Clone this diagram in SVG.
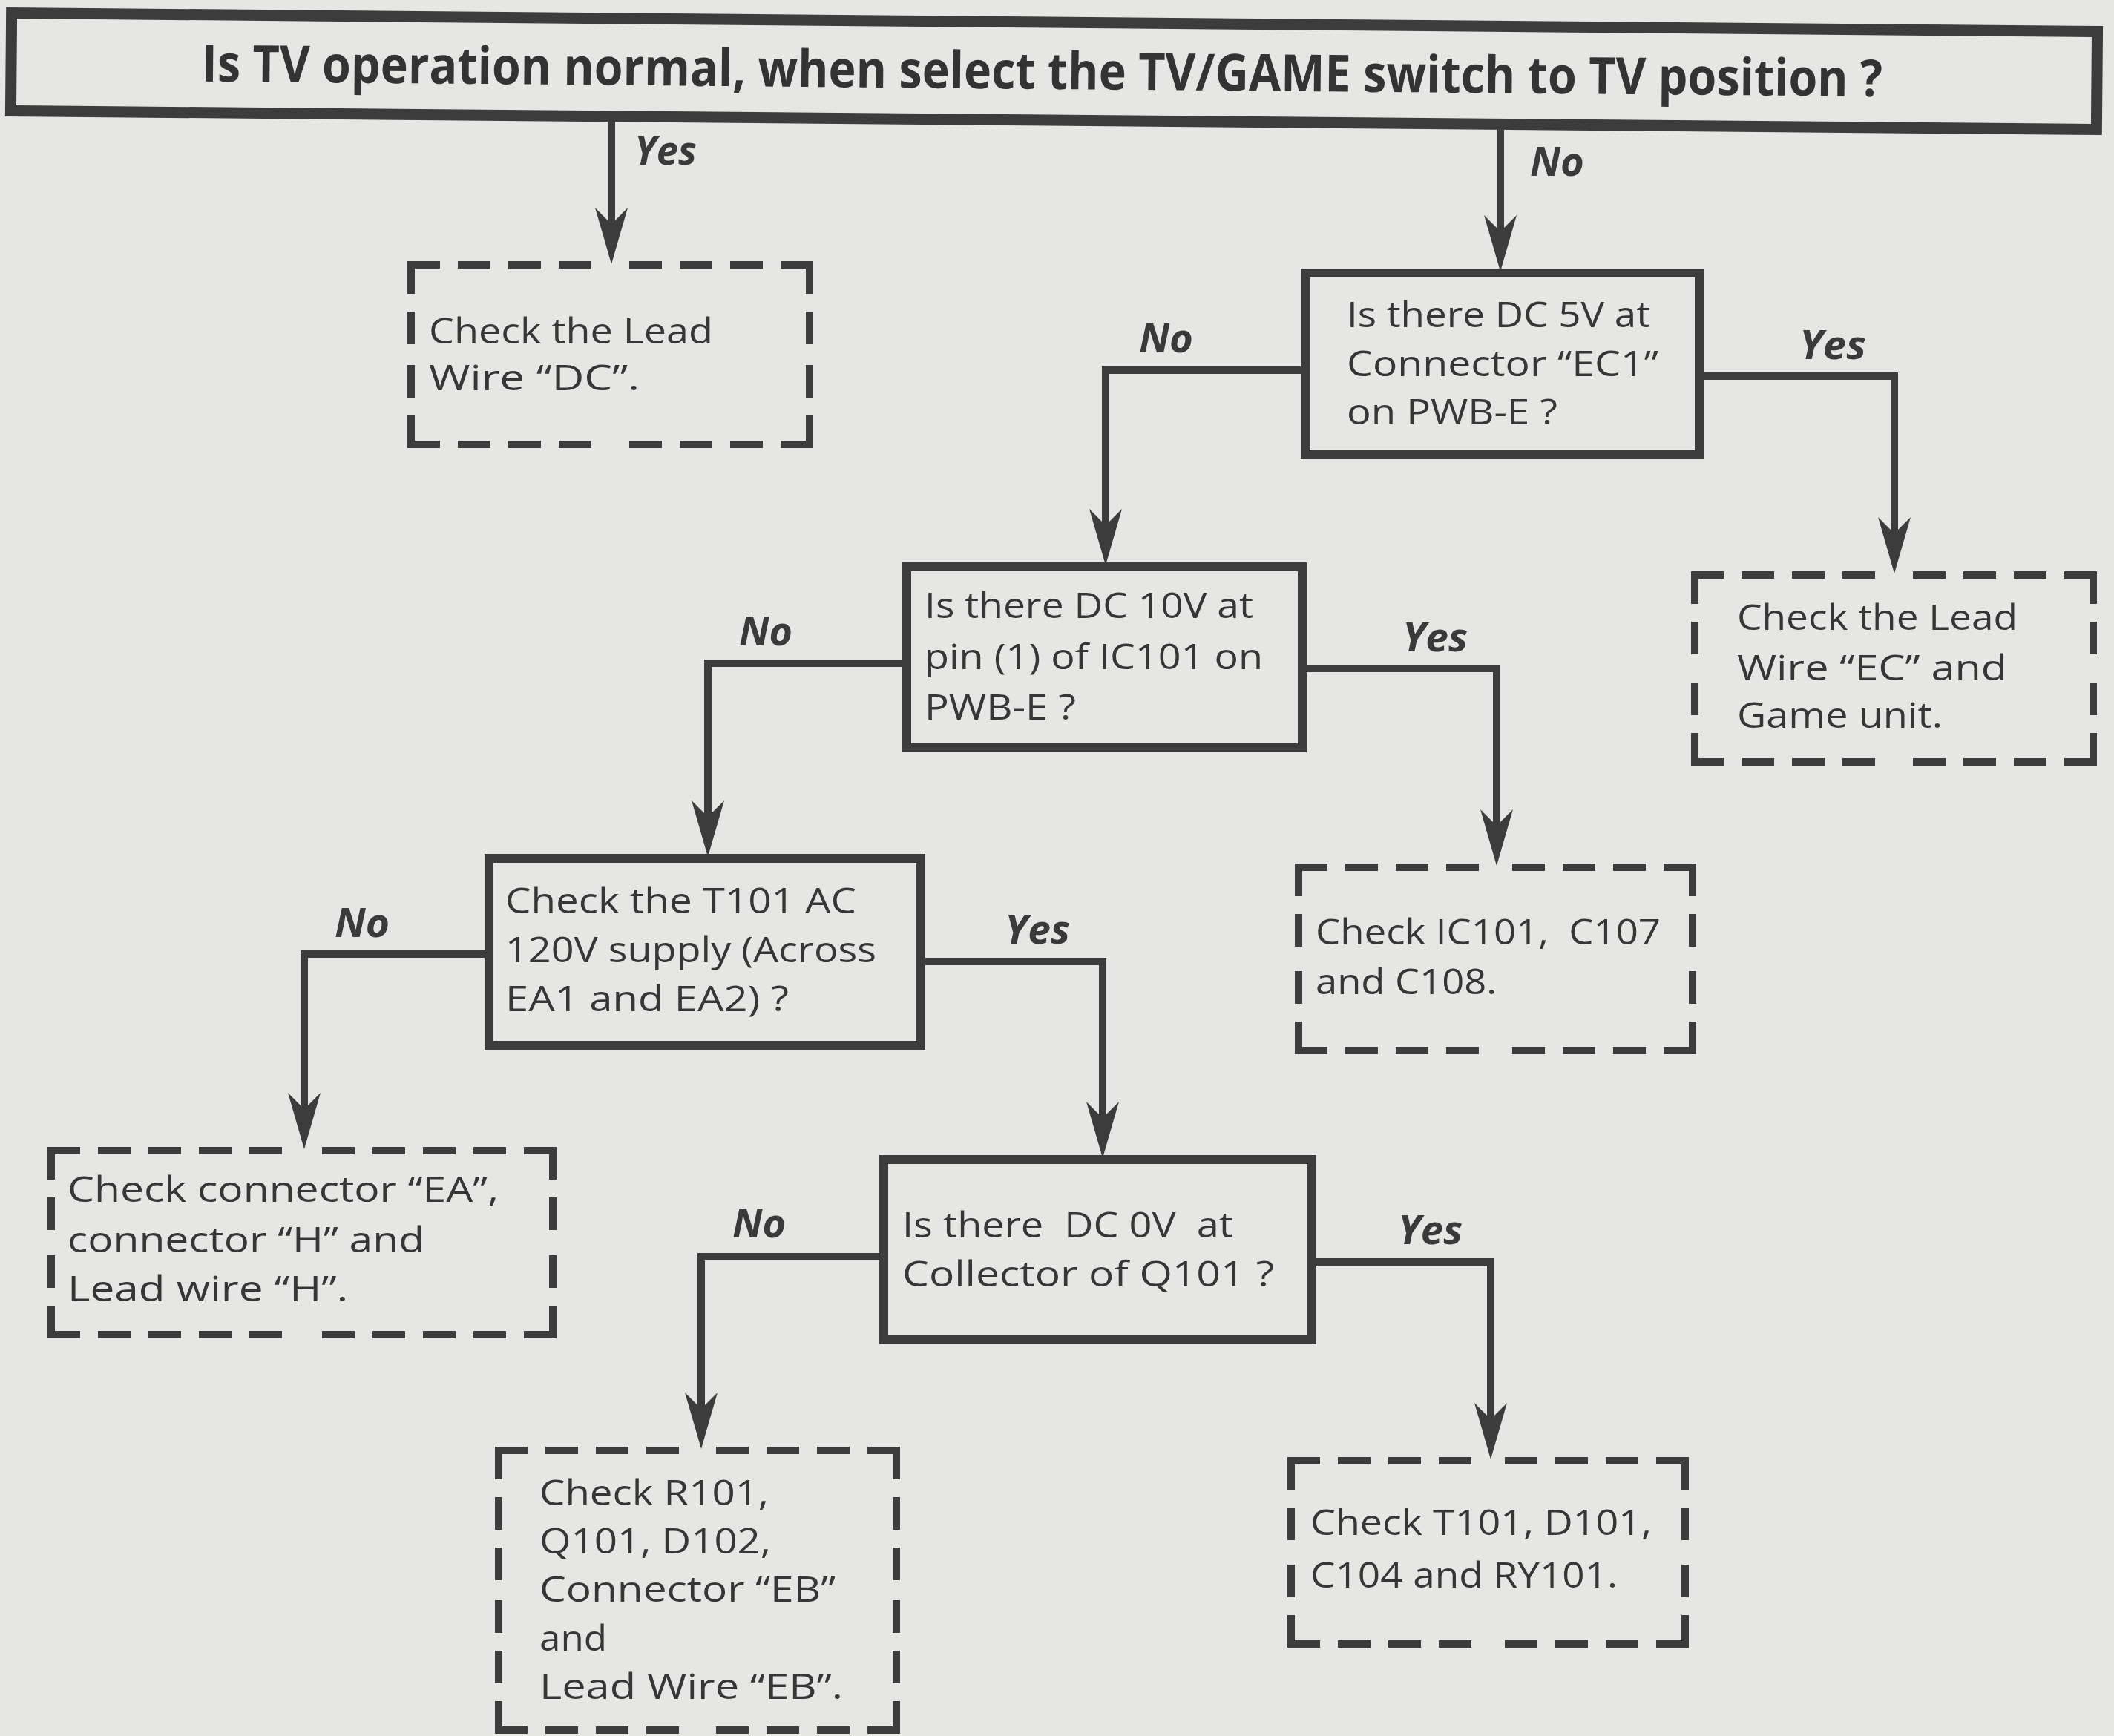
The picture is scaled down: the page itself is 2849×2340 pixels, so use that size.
<svg xmlns="http://www.w3.org/2000/svg" xmlns:xlink="http://www.w3.org/1999/xlink" width="2849" height="2340" viewBox="0 0 2849 2340">
<style>
.bg{fill:#e6e6e4}
.solid{fill:none;stroke:#3c3c3c;stroke-width:12;stroke-linejoin:miter}
.top{fill:none;stroke:#3c3c3c;stroke-width:15}
.dash{fill:none;stroke:#3c3c3c;stroke-width:10;stroke-dasharray:34 34;stroke-linecap:square}
.conn{fill:none;stroke:#3c3c3c;stroke-width:10;stroke-linejoin:miter}
.ah{fill:#3c3c3c}
.t{font-family:"Open Sans","Noto Sans","Liberation Sans",sans-serif;font-size:48px;fill:#363636}
.h{font-family:"Open Sans","Noto Sans","Liberation Sans",sans-serif;font-size:69px;font-weight:bold;fill:#333}
.lb{font-family:"Open Sans","Noto Sans","Liberation Sans",sans-serif;font-size:54px;font-weight:bold;font-style:italic;fill:#3a3a3a}
</style>
<defs>
<path id="ah" class="ah" d="M0,0 L-22,-76 L0,-54 L22,-76 Z"/>
</defs>
<rect class="bg" x="0" y="0" width="2849" height="2340"/>

<g id="connectors">
<path class="conn" d="M824,162 V306"/>
<use href="#ah" transform="translate(824,356)"/>
<text class="lb" x="855" y="222" textLength="84" lengthAdjust="spacingAndGlyphs">Yes</text>

<path class="conn" d="M2022,172 V316"/>
<use href="#ah" transform="translate(2022,366)"/>
<text class="lb" x="2062" y="237" textLength="73" lengthAdjust="spacingAndGlyphs">No</text>

<path class="conn" d="M1759,499 H1490 V712"/>
<use href="#ah" transform="translate(1490,762)"/>
<text class="lb" x="1535" y="475" textLength="73" lengthAdjust="spacingAndGlyphs">No</text>

<path class="conn" d="M2290,507 H2553 V723"/>
<use href="#ah" transform="translate(2553,773)"/>
<text class="lb" x="2425" y="484" textLength="90" lengthAdjust="spacingAndGlyphs">Yes</text>

<path class="conn" d="M1222,894 H954 V1105"/>
<use href="#ah" transform="translate(954,1155)"/>
<text class="lb" x="996" y="870" textLength="72" lengthAdjust="spacingAndGlyphs">No</text>

<path class="conn" d="M1755,901 H2017 V1117"/>
<use href="#ah" transform="translate(2017,1167)"/>
<text class="lb" x="1890" y="878" textLength="88" lengthAdjust="spacingAndGlyphs">Yes</text>

<path class="conn" d="M659,1286 H410 V1499"/>
<use href="#ah" transform="translate(410,1549)"/>
<text class="lb" x="451" y="1263" textLength="74" lengthAdjust="spacingAndGlyphs">No</text>

<path class="conn" d="M1241,1296 H1486 V1511"/>
<use href="#ah" transform="translate(1486,1561)"/>
<text class="lb" x="1354" y="1272" textLength="88" lengthAdjust="spacingAndGlyphs">Yes</text>

<path class="conn" d="M1191,1694 H945 V1903"/>
<use href="#ah" transform="translate(945,1953)"/>
<text class="lb" x="987" y="1668" textLength="72" lengthAdjust="spacingAndGlyphs">No</text>

<path class="conn" d="M1768,1701 H2009 V1917"/>
<use href="#ah" transform="translate(2009,1967)"/>
<text class="lb" x="1884" y="1677" textLength="87" lengthAdjust="spacingAndGlyphs">Yes</text>
</g>

<g id="n-start" transform="rotate(0.51 1420 96)">
<rect class="top" x="15" y="30" width="2811" height="132"/>
<text class="h" x="272" y="120" textLength="2265" lengthAdjust="spacingAndGlyphs">Is TV operation normal, when select the TV/GAME switch to TV position ?</text>
</g>

<g id="n-dc-wire">
<path class="dash" d="M554,357 H822 M1091,357 H822 M1091,357 V478 M1091,599 V478 M1091,599 H822 M554,599 H822 M554,599 V478 M554,357 V478"/>
<text class="t" x="578" y="463" textLength="383" lengthAdjust="spacingAndGlyphs">Check the Lead</text>
<text class="t" x="578" y="526" textLength="284" lengthAdjust="spacingAndGlyphs">Wire “DC”.</text>
</g>

<g id="n-dc5v">
<rect class="solid" x="1759" y="368" width="531" height="245"/>
<text class="t" x="1815" y="441" textLength="409" lengthAdjust="spacingAndGlyphs">Is there DC 5V at</text>
<text class="t" x="1815" y="507" textLength="420" lengthAdjust="spacingAndGlyphs">Connector “EC1”</text>
<text class="t" x="1815" y="572" textLength="284" lengthAdjust="spacingAndGlyphs">on PWB-E ?</text>
</g>

<g id="n-ec-wire">
<path class="dash" d="M2284,775 H2552 M2821,775 H2552 M2821,775 V901 M2821,1027 V901 M2821,1027 H2552 M2284,1027 H2552 M2284,1027 V901 M2284,775 V901"/>
<text class="t" x="2341" y="849" textLength="378" lengthAdjust="spacingAndGlyphs">Check the Lead</text>
<text class="t" x="2341" y="917" textLength="364" lengthAdjust="spacingAndGlyphs">Wire “EC” and</text>
<text class="t" x="2341" y="981" textLength="277" lengthAdjust="spacingAndGlyphs">Game unit.</text>
</g>

<g id="n-dc10v">
<rect class="solid" x="1222" y="764" width="533" height="244"/>
<text class="t" x="1246" y="833" textLength="443" lengthAdjust="spacingAndGlyphs">Is there DC 10V at</text>
<text class="t" x="1246" y="902" textLength="456" lengthAdjust="spacingAndGlyphs">pin (1) of IC101 on</text>
<text class="t" x="1246" y="970" textLength="204" lengthAdjust="spacingAndGlyphs">PWB-E ?</text>
</g>

<g id="n-ic101">
<path class="dash" d="M1750,1169 H2015 M2281,1169 H2015 M2281,1169 V1292 M2281,1416 V1292 M2281,1416 H2015 M1750,1416 H2015 M1750,1416 V1292 M1750,1169 V1292"/>
<text class="t" x="1773" y="1273" textLength="465" lengthAdjust="spacingAndGlyphs" style="white-space:pre">Check IC101,  C107</text>
<text class="t" x="1773" y="1340" textLength="244" lengthAdjust="spacingAndGlyphs">and C108.</text>
</g>

<g id="n-t101">
<rect class="solid" x="659" y="1157" width="582" height="252"/>
<text class="t" x="681" y="1231" textLength="473" lengthAdjust="spacingAndGlyphs">Check the T101 AC</text>
<text class="t" x="681" y="1297" textLength="500" lengthAdjust="spacingAndGlyphs">120V supply (Across</text>
<text class="t" x="681" y="1363" textLength="382" lengthAdjust="spacingAndGlyphs">EA1 and EA2) ?</text>
</g>

<g id="n-ea">
<path class="dash" d="M69,1551 H407 M745,1551 H407 M745,1551 V1675 M745,1799 V1675 M745,1799 H407 M69,1799 H407 M69,1799 V1675 M69,1551 V1675"/>
<text class="t" x="91" y="1620" textLength="581" lengthAdjust="spacingAndGlyphs">Check connector “EA”,</text>
<text class="t" x="91" y="1688" textLength="481" lengthAdjust="spacingAndGlyphs">connector “H” and</text>
<text class="t" x="91" y="1754" textLength="378" lengthAdjust="spacingAndGlyphs">Lead wire “H”.</text>
</g>

<g id="n-dc0v">
<rect class="solid" x="1191" y="1563" width="577" height="243"/>
<text class="t" x="1216" y="1668" textLength="446" lengthAdjust="spacingAndGlyphs" style="white-space:pre">Is there  DC 0V  at</text>
<text class="t" x="1216" y="1734" textLength="501" lengthAdjust="spacingAndGlyphs">Collector of Q101 ?</text>
</g>

<g id="n-r101">
<path class="dash" d="M672,1955 H940 M1208,1955 H940 M1208,1955 V2143 M1208,2332 V2143 M1208,2332 H940 M672,2332 H940 M672,2332 V2143 M672,1955 V2143"/>
<text class="t" x="727" y="2029" textLength="309" lengthAdjust="spacingAndGlyphs">Check R101,</text>
<text class="t" x="727" y="2094" textLength="312" lengthAdjust="spacingAndGlyphs">Q101, D102,</text>
<text class="t" x="727" y="2159" textLength="399" lengthAdjust="spacingAndGlyphs">Connector “EB”</text>
<text class="t" x="727" y="2225" textLength="91" lengthAdjust="spacingAndGlyphs">and</text>
<text class="t" x="727" y="2290" textLength="409" lengthAdjust="spacingAndGlyphs">Lead Wire “EB”.</text>
</g>

<g id="n-t101d101">
<path class="dash" d="M1740,1969 H2005 M2271,1969 H2005 M2271,1969 V2092 M2271,2216 V2092 M2271,2216 H2005 M1740,2216 H2005 M1740,2216 V2092 M1740,1969 V2092"/>
<text class="t" x="1766" y="2069" textLength="460" lengthAdjust="spacingAndGlyphs">Check T101, D101,</text>
<text class="t" x="1766" y="2140" textLength="414" lengthAdjust="spacingAndGlyphs">C104 and RY101.</text>
</g>
</svg>
